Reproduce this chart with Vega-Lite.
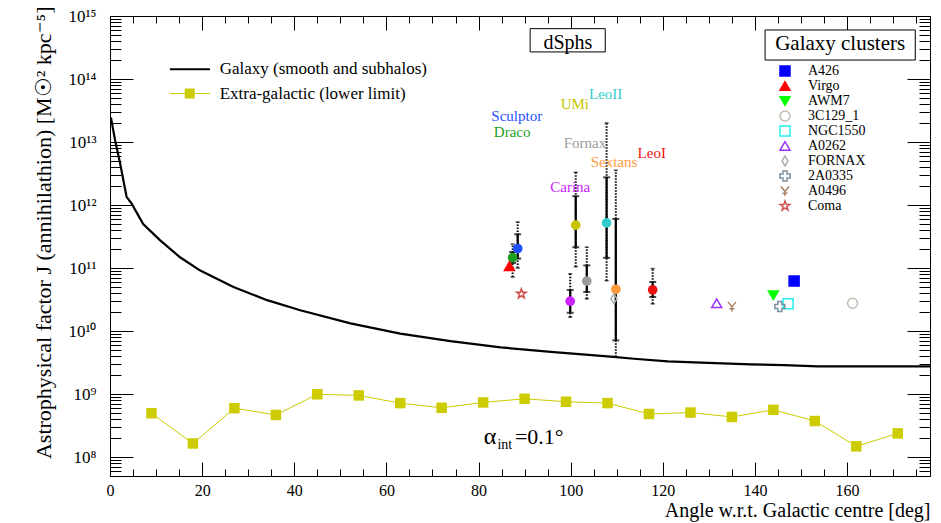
{
  "$schema": "https://vega.github.io/schema/vega-lite/v6.json",
  "width": 820,
  "height": 460,
  "autosize": {"type": "none"},
  "padding": {"left": 110, "top": 16, "right": 11, "bottom": 47},
  "background": "white",
  "datasets": {
    "galaxy": [
      {"deg": 0.2, "J": 2.45e13}, {"deg": 1.1, "J": 1.07e13}, {"deg": 2.2, "J": 4.57e12},
      {"deg": 3.6, "J": 1.35e12}, {"deg": 4.7, "J": 1.05e12}, {"deg": 7.2, "J": 5.0e11},
      {"deg": 10.9, "J": 2.75e11}, {"deg": 15.2, "J": 1.48e11}, {"deg": 19.6, "J": 9.1e10},
      {"deg": 26.8, "J": 5.0e10}, {"deg": 34.1, "J": 3.09e10}, {"deg": 41.3, "J": 2.14e10},
      {"deg": 52.2, "J": 1.32e10}, {"deg": 63.0, "J": 9.1e9}, {"deg": 73.9, "J": 6.9e9},
      {"deg": 84.8, "J": 5.5e9}, {"deg": 95.7, "J": 4.68e9}, {"deg": 109.3, "J": 3.89e9},
      {"deg": 113.7, "J": 3.63e9}, {"deg": 121.1, "J": 3.31e9}, {"deg": 128.3, "J": 3.16e9},
      {"deg": 139.1, "J": 2.95e9}, {"deg": 146.3, "J": 2.88e9}, {"deg": 153.7, "J": 2.75e9},
      {"deg": 175.4, "J": 2.75e9}, {"deg": 178, "J": 2.75e9}
    ],
    "extragal": [
      {"deg": 9, "J": 4.95e8}, {"deg": 18, "J": 1.64e8}, {"deg": 27, "J": 5.96e8},
      {"deg": 36, "J": 4.66e8}, {"deg": 45, "J": 9.9e8}, {"deg": 54, "J": 9.5e8},
      {"deg": 63, "J": 7.18e8}, {"deg": 72, "J": 6.04e8}, {"deg": 81, "J": 7.35e8},
      {"deg": 90, "J": 8.41e8}, {"deg": 99, "J": 7.54e8}, {"deg": 108, "J": 7.18e8},
      {"deg": 117, "J": 4.83e8}, {"deg": 126, "J": 5.08e8}, {"deg": 135, "J": 4.33e8},
      {"deg": 144, "J": 5.61e8}, {"deg": 153, "J": 3.73e8}, {"deg": 162, "J": 1.48e8},
      {"deg": 171, "J": 2.37e8}
    ],
    "dsph": [
      {"name": "Sculptor", "deg": 88.5, "J": 2.04e11, "lo1": 1.41e11, "hi1": 3.43e11, "lo2": 1.0e11, "hi2": 5.37e11},
      {"name": "Draco", "deg": 87.4, "J": 1.46e11, "lo1": 1.2e11, "hi1": 1.8e11, "lo2": 7.2e10, "hi2": 2.4e11},
      {"name": "Carina", "deg": 99.9, "J": 2.97e10, "lo1": 1.95e10, "hi1": 4.47e10, "lo2": 1.66e10, "hi2": 8.1e10},
      {"name": "UMi", "deg": 101.1, "J": 4.8e11, "lo1": 2.14e11, "hi1": 1.38e12, "lo2": 1.05e11, "hi2": 3.3e12},
      {"name": "Fornax", "deg": 103.5, "J": 6.2e10, "lo1": 4.17e10, "hi1": 1.1e11, "lo2": 3.24e10, "hi2": 2.14e11},
      {"name": "LeoII", "deg": 107.8, "J": 5.2e11, "lo1": 1.45e11, "hi1": 2.75e12, "lo2": 6.3e10, "hi2": 2.0e13},
      {"name": "Sextans", "deg": 109.8, "J": 4.6e10, "lo1": 7.1e9, "hi1": 6.0e11, "lo2": 3.9e9, "hi2": 3.55e12},
      {"name": "LeoI", "deg": 117.8, "J": 4.5e10, "lo1": 3.47e10, "hi1": 6.0e10, "lo2": 2.7e10, "hi2": 9.8e10}
    ],
    "labels": [
      {"name": "Sculptor", "deg": 88.3, "J": 2.57e13},
      {"name": "Draco", "deg": 87.3, "J": 1.45e13},
      {"name": "UMi", "deg": 100.9, "J": 3.98e13},
      {"name": "LeoII", "deg": 107.6, "J": 5.75e13},
      {"name": "Fornax", "deg": 103.1, "J": 9.8e12},
      {"name": "Sextans", "deg": 109.4, "J": 4.9e12},
      {"name": "LeoI", "deg": 117.6, "J": 6.6e12},
      {"name": "Carina", "deg": 99.9, "J": 1.95e12}
    ],
    "clusters": [
      {"name": "A426", "deg": 148.5, "J": 6.2e10},
      {"name": "Virgo", "deg": 86.7, "J": 1.07e11},
      {"name": "AWM7", "deg": 144.0, "J": 3.7e10},
      {"name": "3C129_1", "deg": 161.2, "J": 2.76e10},
      {"name": "NGC1550", "deg": 147.2, "J": 2.7e10},
      {"name": "A0262", "deg": 131.7, "J": 2.76e10},
      {"name": "FORNAX", "deg": 109.4, "J": 3.25e10},
      {"name": "2A0335", "deg": 145.4, "J": 2.46e10},
      {"name": "A0496", "deg": 135.0, "J": 2.46e10},
      {"name": "Coma", "deg": 89.3, "J": 3.9e10}
    ],
    "one": [{}]
  },
  "layer": [
    {
      "data": {"name": "galaxy"},
      "mark": {"type": "line", "color": "black", "strokeWidth": 2.2},
      "encoding": {
        "x": {"field": "deg", "type": "quantitative",
          "scale": {"domain": [0, 178], "nice": false, "zero": false},
          "axis": {"orient": "bottom",
            "values": [0,5,10,15,20,25,30,35,40,45,50,55,60,65,70,75,80,85,90,95,100,105,110,115,120,125,130,135,140,145,150,155,160,165,170,175],
            "labelExpr": "datum.value % 20 == 0 ? datum.label : ''",
            "tickSize": {"condition": {"test": "datum.value % 20 == 0", "value": -14}, "value": -7},
            "labelFontSize": 16, "labelPadding": 20, "labelFlush": false, "labelOverlap": false,
            "title": "Angle w.r.t. Galactic centre [deg]", "titleFontSize": 20, "titleAnchor": "end", "titlePadding": -5}},
        "y": {"field": "J", "type": "quantitative",
          "scale": {"type": "log", "domain": [5e7, 1e15], "nice": false},
          "axis": {"orient": "left",
            "values": [5e7,6e7,7e7,8e7,9e7,1e8,2e8,3e8,4e8,5e8,6e8,7e8,8e8,9e8,1e9,2e9,3e9,4e9,5e9,6e9,7e9,8e9,9e9,1e10,2e10,3e10,4e10,5e10,6e10,7e10,8e10,9e10,1e11,2e11,3e11,4e11,5e11,6e11,7e11,8e11,9e11,1e12,2e12,3e12,4e12,5e12,6e12,7e12,8e12,9e12,1e13,2e13,3e13,4e13,5e13,6e13,7e13,8e13,9e13,1e14,2e14,3e14,4e14,5e14,6e14,7e14,8e14,9e14,1e15],
            "labelExpr": "abs(log(datum.value)/LN10 - round(log(datum.value)/LN10)) < 0.01 ? ['10⁷','10⁸','10⁹','10¹⁰','10¹¹','10¹²','10¹³','10¹⁴','10¹⁵'][round(log(datum.value)/LN10)-7] : ''",
            "tickSize": {"condition": {"test": "abs(log(datum.value)/LN10 - round(log(datum.value)/LN10)) < 0.01", "value": -23}, "value": -11},
            "labelFontSize": 17, "labelPadding": 37, "labelOverlap": false, "labelFlush": false,
            "title": "Astrophysical factor J (annihilathion) [M☉² kpc⁻⁵]", "titleFontSize": 22, "titleAnchor": "end", "titlePadding": 12, "titleY": -10}}
      }
    },
    {
      "data": {"name": "extragal"},
      "mark": {"type": "line", "color": "#cccc00", "strokeWidth": 1},
      "encoding": {
        "x": {"field": "deg", "type": "quantitative",
          "axis": {"orient": "top",
            "values": [0,5,10,15,20,25,30,35,40,45,50,55,60,65,70,75,80,85,90,95,100,105,110,115,120,125,130,135,140,145,150,155,160,165,170,175],
            "labels": false, "title": null,
            "tickSize": {"condition": {"test": "datum.value % 20 == 0", "value": -14}, "value": -7}}},
        "y": {"field": "J", "type": "quantitative",
          "axis": {"orient": "right",
            "values": [5e7,6e7,7e7,8e7,9e7,1e8,2e8,3e8,4e8,5e8,6e8,7e8,8e8,9e8,1e9,2e9,3e9,4e9,5e9,6e9,7e9,8e9,9e9,1e10,2e10,3e10,4e10,5e10,6e10,7e10,8e10,9e10,1e11,2e11,3e11,4e11,5e11,6e11,7e11,8e11,9e11,1e12,2e12,3e12,4e12,5e12,6e12,7e12,8e12,9e12,1e13,2e13,3e13,4e13,5e13,6e13,7e13,8e13,9e13,1e14,2e14,3e14,4e14,5e14,6e14,7e14,8e14,9e14,1e15],
            "labels": false, "title": null,
            "tickSize": {"condition": {"test": "abs(log(datum.value)/LN10 - round(log(datum.value)/LN10)) < 0.01", "value": -23}, "value": -11}}}
      }
    },
    {
      "data": {"name": "extragal"},
      "mark": {"type": "point", "shape": "square", "filled": true, "color": "#cccc00", "opacity": 1, "size": 110},
      "encoding": {
        "x": {"field": "deg", "type": "quantitative", "axis": null},
        "y": {"field": "J", "type": "quantitative", "axis": null}
      }
    },
    {
      "data": {"name": "dsph"},
      "mark": {"type": "rule", "color": "black", "strokeWidth": 2, "strokeDash": [1.5, 1.5]},
      "encoding": {
        "x": {"field": "deg", "type": "quantitative", "axis": null},
        "y": {"field": "lo2", "type": "quantitative", "axis": null},
        "y2": {"field": "hi2"}
      }
    },
    {
      "data": {"name": "dsph"},
      "transform": [{"fold": ["lo2", "hi2"], "as": ["k", "v"]}],
      "mark": {"type": "tick", "orient": "horizontal", "color": "black", "size": 4, "thickness": 1.5},
      "encoding": {
        "x": {"field": "deg", "type": "quantitative", "axis": null},
        "y": {"field": "v", "type": "quantitative", "axis": null}
      }
    },
    {
      "data": {"name": "dsph"},
      "mark": {"type": "rule", "color": "black", "strokeWidth": 2.2},
      "encoding": {
        "x": {"field": "deg", "type": "quantitative", "axis": null},
        "y": {"field": "lo1", "type": "quantitative", "axis": null},
        "y2": {"field": "hi1"}
      }
    },
    {
      "data": {"name": "dsph"},
      "transform": [{"fold": ["lo1", "hi1"], "as": ["k", "v"]}],
      "mark": {"type": "tick", "orient": "horizontal", "color": "black", "size": 7, "thickness": 2},
      "encoding": {
        "x": {"field": "deg", "type": "quantitative", "axis": null},
        "y": {"field": "v", "type": "quantitative", "axis": null}
      }
    },
    {
      "data": {"name": "dsph"},
      "mark": {"type": "point", "shape": "circle", "filled": true, "opacity": 1, "size": 95},
      "encoding": {
        "x": {"field": "deg", "type": "quantitative", "axis": null},
        "y": {"field": "J", "type": "quantitative", "axis": null},
        "color": {"field": "name", "type": "nominal", "legend": null,
          "scale": {"domain": ["Sculptor", "Draco", "UMi", "LeoII", "Fornax", "Sextans", "LeoI", "Carina"],
                    "range": ["#1f4fff", "#1f9f1f", "#c8c400", "#33cccc", "#9c9c9c", "#ff9a3c", "#ee1111", "#cc22ff"]}}
      }
    },
    {
      "data": {"name": "labels"},
      "mark": {"type": "text", "fontSize": 15, "font": "Liberation Serif", "align": "center", "baseline": "middle"},
      "encoding": {
        "x": {"field": "deg", "type": "quantitative", "axis": null},
        "y": {"field": "J", "type": "quantitative", "axis": null},
        "text": {"field": "name"},
        "color": {"field": "name", "type": "nominal", "legend": null}
      }
    },
    {
      "data": {"name": "clusters"},
      "mark": {"type": "point", "opacity": 1, "strokeWidth": 1.5, "size": 100},
      "encoding": {
        "x": {"field": "deg", "type": "quantitative", "axis": null},
        "y": {"field": "J", "type": "quantitative", "axis": null},
        "shape": {"field": "name", "type": "nominal",
          "scale": {"domain": ["A426", "Virgo", "AWM7", "3C129_1", "NGC1550", "A0262", "FORNAX", "2A0335", "A0496", "Coma"],
                    "range": ["square", "triangle-up", "triangle-down", "circle", "square", "triangle-up", "M0,-1L0.6,0L0,1L-0.6,0Z", "cross", "M-0.8,-0.9L0,0.1L0.8,-0.9M0,0.1L0,1M-0.5,0.45L0.5,0.45", "M0,-1L0.235,-0.324L0.951,-0.309L0.38,0.124L0.588,0.809L0,0.4L-0.588,0.809L-0.38,0.124L-0.951,-0.309L-0.235,-0.324Z"]},
          "legend": {"title": null, "orient": "none", "legendX": 668, "legendY": 48}},
        "fill": {"field": "name", "type": "nominal",
          "scale": {"domain": ["A426", "Virgo", "AWM7", "3C129_1", "NGC1550", "A0262", "FORNAX", "2A0335", "A0496", "Coma"],
                    "range": ["#0000ff", "#ff0000", "#00ff00", "transparent", "transparent", "transparent", "transparent", "transparent", "transparent", "transparent"]},
          "legend": {"title": null, "orient": "none", "legendX": 668, "legendY": 48}},
        "stroke": {"field": "name", "type": "nominal",
          "scale": {"domain": ["A426", "Virgo", "AWM7", "3C129_1", "NGC1550", "A0262", "FORNAX", "2A0335", "A0496", "Coma"],
                    "range": ["#0000ff", "#ff0000", "#00ff00", "#c4bcb4", "#22eeee", "#9933ff", "#a8b4ac", "#7890a0", "#a88060", "#d05050"]},
          "legend": {"title": null, "orient": "none", "legendX": 668, "legendY": 48}}
      }
    },
    {
      "data": {"name": "one"},
      "mark": {"type": "rect", "fill": "black", "xOffset": 3, "yOffset": 3},
      "encoding": {
        "x": {"datum": 91.2, "type": "quantitative", "axis": null}, "x2": {"datum": 107.5},
        "y": {"datum": 6.3e14, "type": "quantitative", "axis": null}, "y2": {"datum": 2.69e14}
      }
    },
    {
      "data": {"name": "one"},
      "mark": {"type": "rect", "fill": "white", "stroke": "black", "strokeWidth": 1},
      "encoding": {
        "x": {"datum": 91.2, "type": "quantitative", "axis": null}, "x2": {"datum": 107.5},
        "y": {"datum": 6.3e14, "type": "quantitative", "axis": null}, "y2": {"datum": 2.69e14}
      }
    },
    {
      "data": {"name": "one"},
      "mark": {"type": "text", "text": "dSphs", "fontSize": 20, "font": "Liberation Serif", "align": "center", "baseline": "middle", "color": "black"},
      "encoding": {
        "x": {"datum": 99.4, "type": "quantitative", "axis": null},
        "y": {"datum": 3.7e14, "type": "quantitative", "axis": null}
      }
    },
    {
      "data": {"name": "one"},
      "mark": {"type": "rect", "fill": "black", "xOffset": 3, "yOffset": 3},
      "encoding": {
        "x": {"datum": 142.2, "type": "quantitative", "axis": null}, "x2": {"datum": 174.8},
        "y": {"datum": 6.0e14, "type": "quantitative", "axis": null}, "y2": {"datum": 2.0e14}
      }
    },
    {
      "data": {"name": "one"},
      "mark": {"type": "rect", "fill": "white", "stroke": "black", "strokeWidth": 1},
      "encoding": {
        "x": {"datum": 142.2, "type": "quantitative", "axis": null}, "x2": {"datum": 174.8},
        "y": {"datum": 6.0e14, "type": "quantitative", "axis": null}, "y2": {"datum": 2.0e14}
      }
    },
    {
      "data": {"name": "one"},
      "mark": {"type": "text", "text": "Galaxy clusters", "fontSize": 21, "font": "Liberation Serif", "align": "center", "baseline": "middle", "color": "black"},
      "encoding": {
        "x": {"datum": 158.5, "type": "quantitative", "axis": null},
        "y": {"datum": 3.55e14, "type": "quantitative", "axis": null}
      }
    },
    {
      "data": {"name": "one"},
      "mark": {"type": "rule", "color": "black", "strokeWidth": 2},
      "encoding": {
        "x": {"datum": 13.0, "type": "quantitative", "axis": null}, "x2": {"datum": 21.7},
        "y": {"datum": 1.43e14, "type": "quantitative", "axis": null}
      }
    },
    {
      "data": {"name": "one"},
      "mark": {"type": "rule", "color": "#cccc00", "strokeWidth": 1},
      "encoding": {
        "x": {"datum": 13.0, "type": "quantitative", "axis": null}, "x2": {"datum": 21.7},
        "y": {"datum": 5.88e13, "type": "quantitative", "axis": null}
      }
    },
    {
      "data": {"name": "one"},
      "mark": {"type": "point", "shape": "square", "filled": true, "color": "#cccc00", "opacity": 1, "size": 100},
      "encoding": {
        "x": {"datum": 17.3, "type": "quantitative", "axis": null},
        "y": {"datum": 5.88e13, "type": "quantitative", "axis": null}
      }
    },
    {
      "data": {"name": "one"},
      "mark": {"type": "text", "text": "Galaxy (smooth and subhalos)", "fontSize": 17, "font": "Liberation Serif", "align": "left", "baseline": "middle", "color": "black"},
      "encoding": {
        "x": {"datum": 23.8, "type": "quantitative", "axis": null},
        "y": {"datum": 1.43e14, "type": "quantitative", "axis": null}
      }
    },
    {
      "data": {"name": "one"},
      "mark": {"type": "text", "text": "Extra-galactic (lower limit)", "fontSize": 17, "font": "Liberation Serif", "align": "left", "baseline": "middle", "color": "black"},
      "encoding": {
        "x": {"datum": 23.8, "type": "quantitative", "axis": null},
        "y": {"datum": 5.88e13, "type": "quantitative", "axis": null}
      }
    },
    {
      "data": {"name": "one"},
      "mark": {"type": "text", "text": "α", "fontSize": 24, "font": "Liberation Serif", "align": "center", "baseline": "middle", "color": "black"},
      "encoding": {
        "x": {"datum": 82.5, "type": "quantitative", "axis": null},
        "y": {"datum": 2.09e8, "type": "quantitative", "axis": null}
      }
    },
    {
      "data": {"name": "one"},
      "mark": {"type": "text", "text": "int", "fontSize": 14, "font": "Liberation Serif", "align": "center", "baseline": "middle", "color": "black"},
      "encoding": {
        "x": {"datum": 85.7, "type": "quantitative", "axis": null},
        "y": {"datum": 1.55e8, "type": "quantitative", "axis": null}
      }
    },
    {
      "data": {"name": "one"},
      "mark": {"type": "text", "text": "=0.1°", "fontSize": 22, "font": "Liberation Serif", "align": "left", "baseline": "middle", "color": "black"},
      "encoding": {
        "x": {"datum": 87.9, "type": "quantitative", "axis": null},
        "y": {"datum": 2.09e8, "type": "quantitative", "axis": null}
      }
    }
  ],
  "resolve": {"axis": {"x": "independent", "y": "independent"}},
  "config": {
    "view": {"stroke": "black", "strokeWidth": 1},
    "font": "Liberation Serif",
    "axis": {"labelFont": "Liberation Serif", "titleFont": "Liberation Serif", "labelColor": "black", "titleColor": "black",
             "tickColor": "black", "tickWidth": 1, "domain": false, "grid": false, "titleFontWeight": "normal"},
    "legend": {"labelFont": "Liberation Serif", "labelFontSize": 14, "labelColor": "black", "symbolSize": 100,
               "symbolStrokeWidth": 1.5, "rowPadding": -1.4, "labelOffset": 16, "padding": 0, "symbolOpacity": 1}
  }
}
